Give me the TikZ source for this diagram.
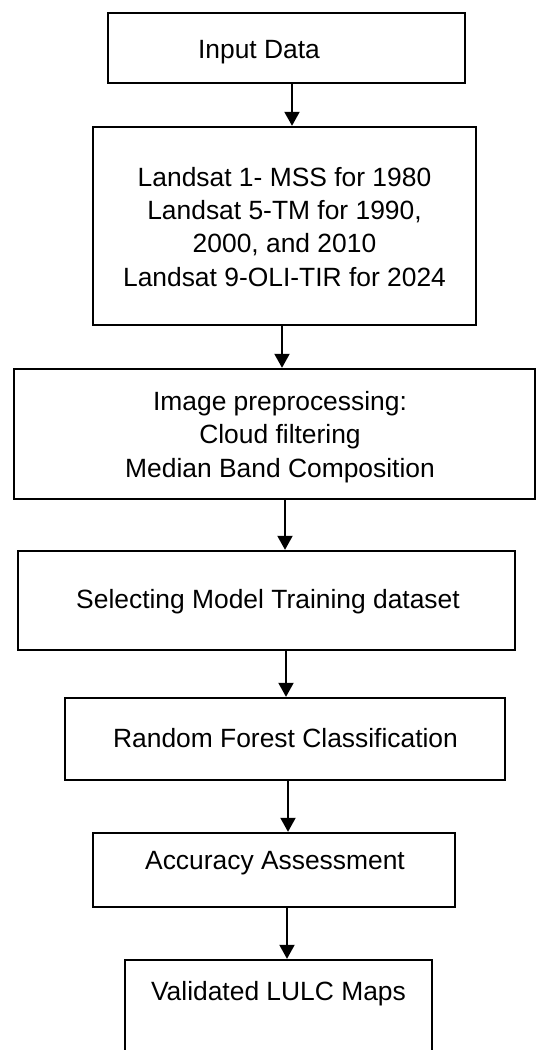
\documentclass[tikz,border=0pt]{standalone}
\usepackage{fontspec}
\setmainfont{Liberation Sans}
\usetikzlibrary{arrows.meta}
\begin{document}
\begin{tikzpicture}[x=1pt,y=-1pt,
  stepbox/.style={draw=black, line width=2.4pt, rectangle, inner sep=0pt, fill=white},
  lbl/.style={inner sep=0pt, font=\fontsize{26.4}{33.3}\selectfont, align=center},
  flow/.style={line width=1.9pt, -{Triangle[length=14pt,width=15pt]}}]
\fill[white] (0,0) rectangle (536,1050);
\useasboundingbox (0,0) rectangle (536,1050);
\clip (0,0) rectangle (536,1050);

% process boxes
\node[stepbox, minimum width=357pt, minimum height=70pt]  (b1) at (286.5,48)  {};
\node[stepbox, minimum width=383pt, minimum height=198pt] (b2) at (284.5,226) {};
\node[stepbox, minimum width=521pt, minimum height=130pt] (b3) at (274.5,434) {};
\node[stepbox, minimum width=497pt, minimum height=99pt]  (b4) at (266.5,600.5) {};
\node[stepbox, minimum width=440pt, minimum height=82pt]  (b5) at (285,739) {};
\node[stepbox, minimum width=362pt, minimum height=74pt]  (b6) at (274,870) {};
\node[stepbox, minimum width=307pt, minimum height=140pt] (b7) at (278.5,1030) {};

% box texts (multi-line labels are placed by the baseline of their last line)
\node[lbl, anchor=base] (t1) at (259,58) {Input Data};
\node[lbl, anchor=base] (t2) at (284.5,286) {Landsat 1- MSS for 1980\\Landsat 5-TM for 1990,\\2000, and 2010\\Landsat 9-OLI-TIR for 2024};
\node[lbl, anchor=base] (t3) at (280,477) {Image preprocessing:\\Cloud filtering\\Median Band Composition};
\node[lbl, anchor=base] (t4) at (268,608) {Selecting Model Training dataset};
\node[lbl, anchor=base] (t5) at (285.5,747.5) {Random Forest Classification};
\node[lbl, anchor=base] (t6) at (275,869.5) {Accuracy Assessment};
\node[lbl, anchor=base] (t7) at (278.5,1000) {Validated LULC Maps};

% connectors
\coordinate (a1) at (292,0);
\coordinate (a2) at (282,0);
\coordinate (a3) at (285,0);
\coordinate (a4) at (286,0);
\coordinate (a5) at (288,0);
\coordinate (a6) at (287,0);
\draw[flow] (b1.south -| a1) -- (b2.north -| a1);
\draw[flow] (b2.south -| a2) -- (b3.north -| a2);
\draw[flow] (b3.south -| a3) -- (b4.north -| a3);
\draw[flow] (b4.south -| a4) -- (b5.north -| a4);
\draw[flow] (b5.south -| a5) -- (b6.north -| a5);
\draw[flow] (b6.south -| a6) -- (b7.north -| a6);
\end{tikzpicture}
\end{document}
